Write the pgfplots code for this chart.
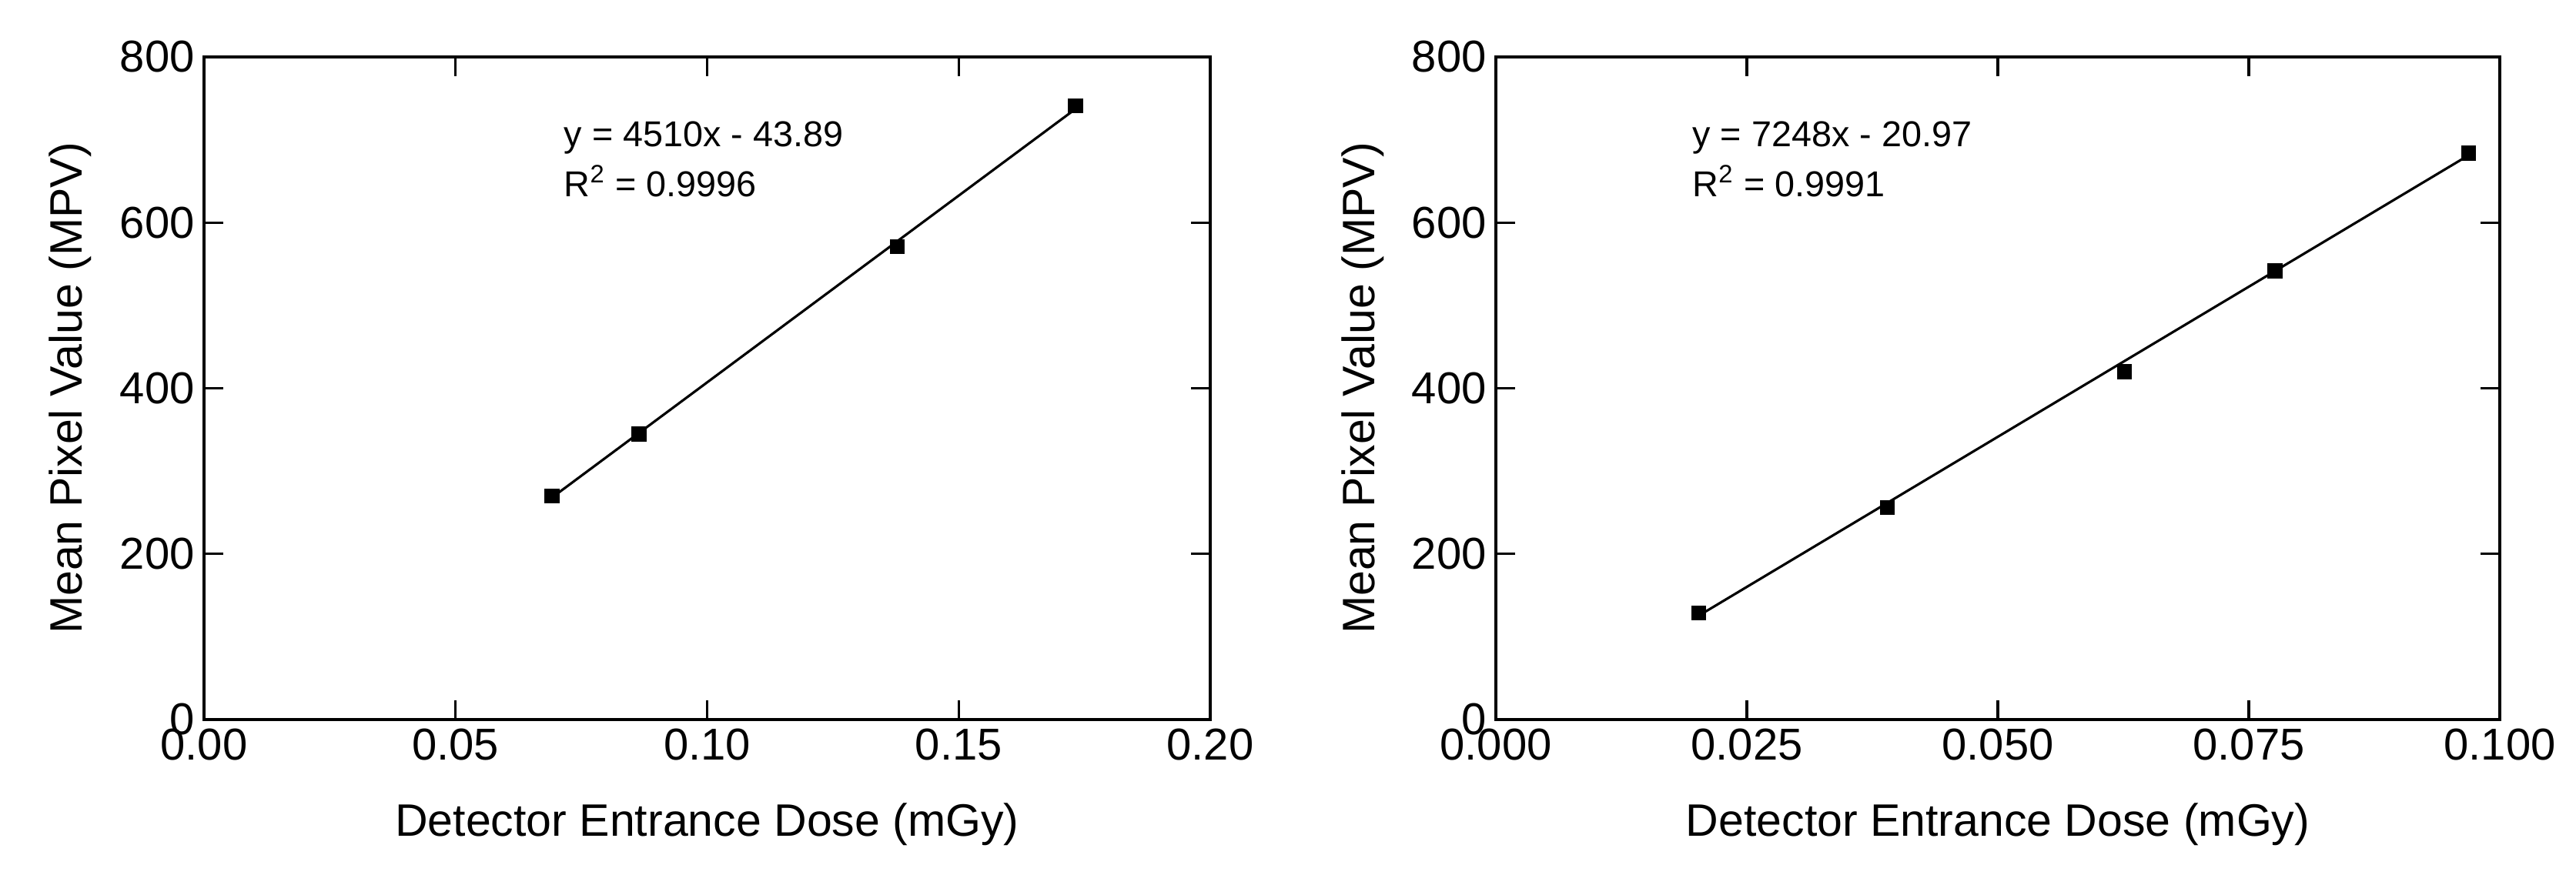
\documentclass[border=0pt]{standalone}
\usepackage{fontspec}
\setmainfont{Liberation Sans}
\usepackage{pgfplots}
\pgfplotsset{compat=1.18}

\tikzset{eqtext/.style={anchor=base west, inner sep=0pt, font=\fontsize{13.3}{16}\selectfont}}

\pgfplotsset{
  common/.style={
    scale only axis,
    height=8.61cm,
    ymin=0, ymax=800, ytick={0,200,400,600,800},
    tick align=inside, xtick pos=both, ytick pos=both,
    xticklabel pos=lower, yticklabel pos=left,
    major tick length=0.25cm,
    axis line style={line width=1.1pt},
    every tick/.style={black, line width=0.9pt},
    tick label style={font=\fontsize{16.5}{19}\selectfont},
    label style={font=\fontsize{16.8}{20}\selectfont},
    /pgf/number format/assume math mode=true,
    scaled ticks=false,
    xlabel style={at={(axis description cs:0.5,-0.1765)}, anchor=base},
    ylabel style={at={(axis description cs:-0.1209,0.5)}, anchor=base},
    xlabel={Detector Entrance Dose (mGy)},
    ylabel={Mean Pixel Value (MPV)},
    yticklabel style={/pgf/number format/.cd, fixed, precision=0},
  },
  pts/.style={only marks, mark=square*, mark size=2.6pt, black},
  fit/.style={black, line width=0.9pt, no marks},
}

\begin{document}
\begin{tikzpicture}
\path[use as bounding box] (0,0) rectangle (33.46cm,11.36cm);

\begin{axis}[common, at={(2.65cm,2.01cm)}, anchor=south west,
  width=13.07cm,
  xmin=0, xmax=0.2, xtick={0,0.05,0.1,0.15,0.2},
  xticklabel style={/pgf/number format/.cd, fixed, fixed zerofill, precision=2},
]
\addplot[fit] coordinates {(0.0692,268.2) (0.1732,737.2)};
\addplot[pts] coordinates {
  (0.0692,270)
  (0.0865,345)
  (0.1378,571)
  (0.1732,741)
};
\node[eqtext] at (axis cs:0.0715,692) {y = 4510x - 43.89};
\node[eqtext] at (axis cs:0.0715,631) {R\textsuperscript{2} = 0.9996};
\end{axis}

\begin{axis}[common, at={(19.43cm,2.01cm)}, anchor=south west,
  width=13.04cm,
  xmin=0, xmax=0.1, xtick={0,0.025,0.05,0.075,0.1},
  xticklabel style={/pgf/number format/.cd, fixed, fixed zerofill, precision=3},
]
\addplot[fit] coordinates {(0.0202,125.4) (0.0969,681.4)};
\addplot[pts] coordinates {
  (0.0202,128.6)
  (0.0390,256)
  (0.0626,420)
  (0.0776,542)
  (0.0969,684)
};
\node[eqtext] at (axis cs:0.01955,692) {y = 7248x - 20.97};
\node[eqtext] at (axis cs:0.01955,631) {R\textsuperscript{2} = 0.9991};
\end{axis}
\end{tikzpicture}
\end{document}
